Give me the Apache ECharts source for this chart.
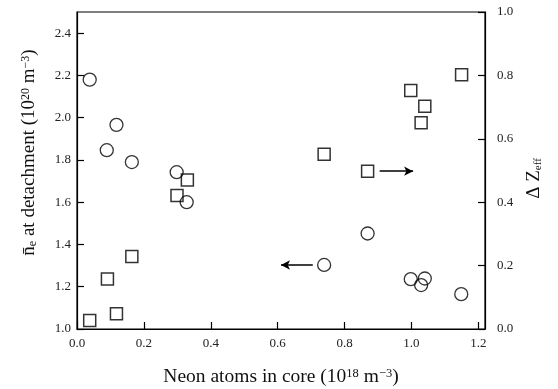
<!DOCTYPE html>
<html><head><meta charset="utf-8">
<script src="https://cdn.jsdelivr.net/npm/echarts@6/dist/echarts.min.js"></script>
<style>html,body{margin:0;padding:0;background:#fff}#c{width:558px;height:389px}</style>
</head><body><div id="c"></div>
<script>
// Neon atoms in core (10^18 m^-3) for each shot
const neonCircle = [0.038, 0.089, 0.118, 0.164, 0.298, 0.328, 0.739, 0.869, 0.998, 1.040, 1.029, 1.149];
// n_e at detachment (10^20 m^-3), left axis
const neDetach = [2.18, 1.846, 1.966, 1.79, 1.742, 1.60, 1.303, 1.452, 1.236, 1.239, 1.208, 1.165];
const neonSquare = [0.038, 0.118, 0.091, 0.164, 0.299, 0.330, 0.739, 0.869, 0.998, 1.040, 1.029, 1.150];
// Delta Z_eff, right axis
const dZeff = [0.027, 0.048, 0.158, 0.229, 0.421, 0.470, 0.551, 0.498, 0.752, 0.703, 0.651, 0.802];
// arrow annotations (data units)
const arrowLeft = [[0.705, 1.303], [0.61, 1.303]];
const arrowRight = [[0.905, 0.498], [1.005, 0.498]];

const font = 'Liberation Serif';
const pairs = (xs, ys) => xs.map((x, i) => [x, ys[i]]);
const chart = echarts.init(document.getElementById('c'), null, {renderer: 'canvas'});
const axisCommon = {
  axisLine: {show: true, onZero: false, lineStyle: {color: '#000', width: 1.2}},
  axisTick: {show: true, inside: true, length: 7, lineStyle: {color: '#000', width: 1.2}},
  splitLine: {show: false},
  axisLabel: {fontFamily: font, fontSize: 13, color: '#222', showMaxLabel: false,
    formatter: v => v.toFixed(1)}
};
chart.setOption({
  animation: false,
  grid: {left: 77, right: 73, top: 12, bottom: 60, containLabel: false, outerBoundsMode: 'none',
    show: true, borderColor: '#000', borderWidth: 1.2},
  xAxis: Object.assign({}, axisCommon, {
    type: 'value', min: 0, max: 1.22, interval: 0.2,
    name: 'Neon atoms in core (10{sup|18} m{sup|−3})', nameLocation: 'middle', nameGap: 38,
    nameTextStyle: {fontFamily: font, fontSize: 19.5, color: '#111',
      rich: {sup: {fontFamily: font, fontSize: 12.5, verticalAlign: 'top', color: '#111'}}},
    axisLabel: Object.assign({}, axisCommon.axisLabel, {margin: 8})
  }),
  yAxis: [
    Object.assign({}, axisCommon, {
      type: 'value', min: 1.0, max: 2.5, interval: 0.2, position: 'left',
      name: '{n|n̄}{sub|e} at detachment (10{sup|20} m{sup|−3})', nameLocation: 'middle', nameGap: 38, nameRotate: 90,
      nameTextStyle: {fontFamily: font, fontSize: 19, color: '#111', padding: [0, 0, 0, 36],
        rich: {
          n: {fontFamily: font, fontSize: 19, color: '#111'},
          sub: {fontFamily: font, fontSize: 12, verticalAlign: 'bottom', color: '#111'},
          sup: {fontFamily: font, fontSize: 12, verticalAlign: 'top', color: '#111'}
        }},
      axisLabel: Object.assign({}, axisCommon.axisLabel, {margin: 6})
    }),
    Object.assign({}, axisCommon, {
      type: 'value', min: 0, max: 1.0, interval: 0.2, position: 'right',
      name: 'Δ Z{sub|eff}', nameLocation: 'middle', nameGap: 40, nameRotate: 90,
      nameTextStyle: {fontFamily: font, fontSize: 19, color: '#111', padding: [0, 16, 0, 0],
        rich: {sub: {fontFamily: font, fontSize: 11, verticalAlign: 'bottom', color: '#111'}}},
      axisLabel: Object.assign({}, axisCommon.axisLabel, {margin: 12, showMaxLabel: true})
    })
  ],
  series: [
    {
      type: 'scatter', yAxisIndex: 0, data: pairs(neonCircle, neDetach),
      symbol: 'circle', symbolSize: 13,
      itemStyle: {color: 'rgba(255,255,255,0)', borderColor: '#000', borderWidth: 1.3},
      markLine: {silent: true, symbol: ['none', 'arrow'], symbolSize: [7, 9],
        label: {show: false}, lineStyle: {color: '#000', width: 1.5, type: 'solid'},
        data: [[{coord: arrowLeft[0]}, {coord: arrowLeft[1]}]]}
    },
    {
      type: 'scatter', yAxisIndex: 1, data: pairs(neonSquare, dZeff),
      symbol: 'rect', symbolSize: 12,
      itemStyle: {color: 'rgba(255,255,255,0)', borderColor: '#000', borderWidth: 1.5},
      markLine: {silent: true, symbol: ['none', 'arrow'], symbolSize: [7, 9],
        label: {show: false}, lineStyle: {color: '#000', width: 1.5, type: 'solid'},
        data: [[{coord: arrowRight[0]}, {coord: arrowRight[1]}]]}
    }
  ]
});
</script></body></html>
